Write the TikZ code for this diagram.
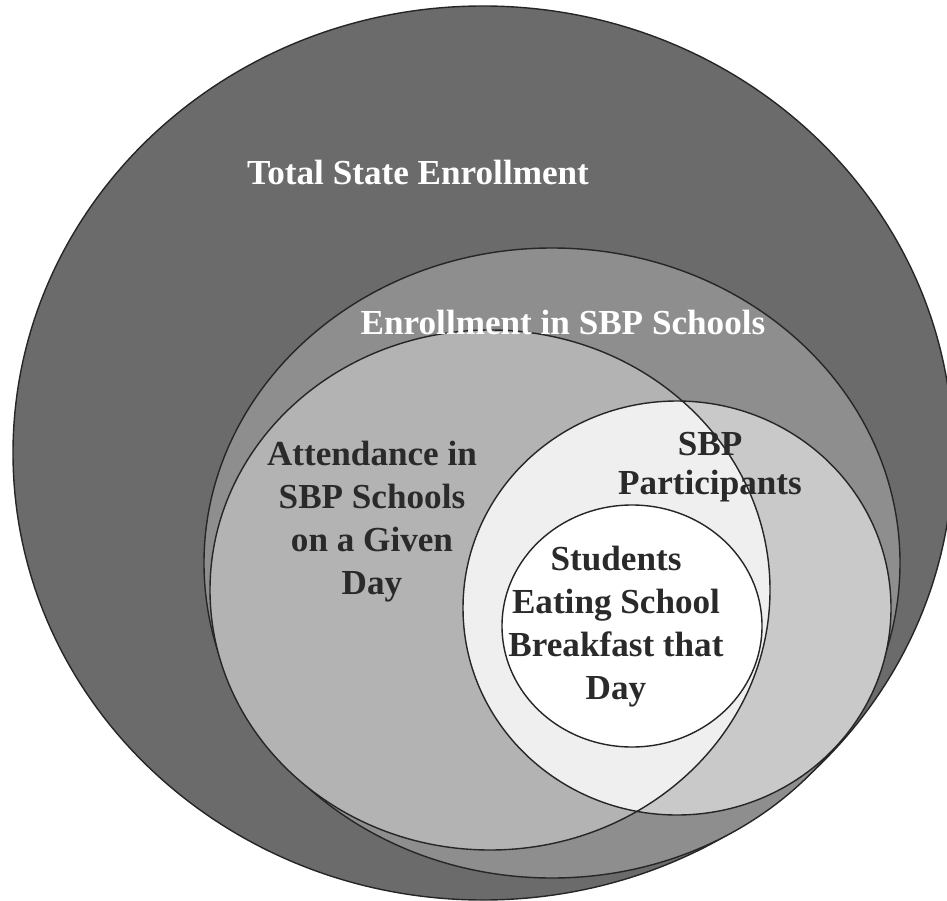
\documentclass[tikz,border=0pt]{standalone}
\usepackage{fontspec}
\setmainfont{Liberation Serif}
\definecolor{totalgray}{HTML}{6B6B6B}
\definecolor{enrolgray}{HTML}{8E8E8E}
\definecolor{attendgray}{HTML}{B3B3B3}
\definecolor{partgray}{HTML}{C9C9C9}
\definecolor{overlapgray}{HTML}{EFEFEF}
\definecolor{inkgray}{HTML}{2A2A2A}
\tikzset{ring/.style={draw=black!85,line width=0.8pt}}
\tikzset{lighttext/.style={text=white,align=center,font=\fontsize{20}{24.5}\selectfont\bfseries}}
\tikzset{darktext/.style={text=inkgray,align=center,font=\fontsize{20}{24.5}\selectfont\bfseries}}
\newcommand{\attpath}{(9.80,6.20) ellipse [x radius=5.60, y radius=5.20]}
\newcommand{\sbppath}{(13.54,5.84) ellipse [x radius=4.28, y radius=4.14]}

\begin{document}
\begin{tikzpicture}
        \useasboundingbox (0,0) rectangle (18.94,18);
        \clip (0,0) rectangle (18.94,18);

        \filldraw[ring,fill=totalgray] (9.66,8.94) ellipse [x radius=9.40, y radius=8.94];
        \filldraw[ring,fill=enrolgray] (11.04,6.74) ellipse [x radius=6.96, y radius=6.30];
        \fill[attendgray] \attpath;
        \fill[partgray] \sbppath;
        \begin{scope}
            \clip \attpath;
            \fill[overlapgray] \sbppath;
        \end{scope}
        \draw[ring] \attpath;
        \draw[ring] \sbppath;
        \filldraw[ring,fill=white] (12.64,5.48) ellipse [x radius=2.60, y radius=2.42];

        \node[lighttext] (tot) at (8.36,14.56) {Total State Enrollment};
        \node[lighttext] (enr) at (11.26,11.56) {Enrollment in SBP Schools};
        \node[darktext] (att) at (7.44,7.56)
            {Attendance in\\ SBP Schools\\ on a Given\\ Day};
        \node[darktext] (sbp) at (14.20,8.66) {SBP\\[-2pt] Participants};
        \node[darktext] (eat) at (12.32,5.46)
            {Students\\ Eating School\\ Breakfast that\\ Day};
    \end{tikzpicture}
\end{document}
